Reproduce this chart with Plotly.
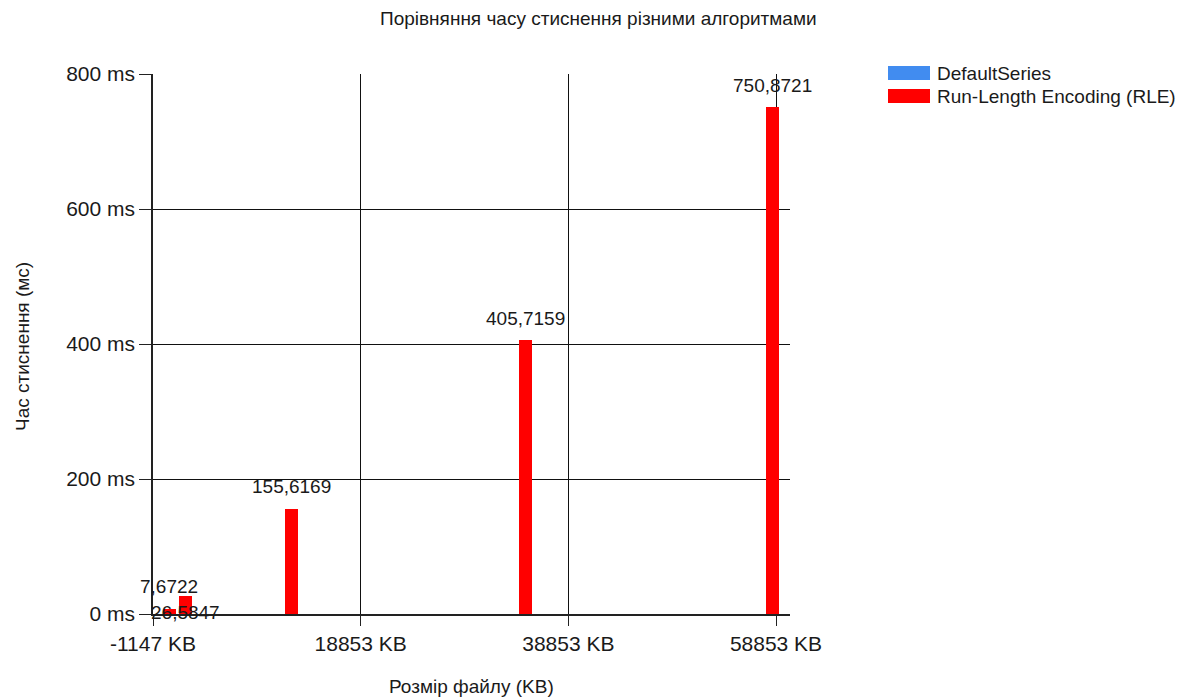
import plotly.graph_objects as go

# ---- data ----
file_sizes_kb = [400, 2000, 12200, 34700, 58500]
rle_times_ms = [7.6722, 26.5847, 155.6169, 405.7159, 750.8721]
series_names = ["DefaultSeries", "Run-Length Encoding (RLE)"]
series_colors = ["#418CF0", "#FF0000"]
x_tick_values = [-1147, 18853, 38853, 58853]
x_tick_labels = ["-1147 KB", "18853 KB", "38853 KB", "58853 KB"]
y_tick_values = [0, 200, 400, 600, 800]
y_tick_labels = ["0 ms", "200 ms", "400 ms", "600 ms", "800 ms"]
title_text = "Порівняння часу стиснення різними алгоритмами"
x_title = "Розмір файлу (KB)"
y_title = "Час стиснення (мс)"

W, H = 1185, 699
L, R, T, B = 153, 790, 74, 614
FONT = "Liberation Sans, Arial, sans-serif"
TXT = "#1a1a1a"

def px_x(p):
    return (p - L) / (R - L)

def px_y(p):
    return (B - p) / (B - T)

fig = go.Figure()
fig.add_trace(go.Bar(x=[None], y=[None], name=series_names[0],
                     marker_color=series_colors[0], showlegend=False))
fig.add_trace(go.Bar(x=file_sizes_kb, y=rle_times_ms, name=series_names[1],
                     marker=dict(color=series_colors[1], line=dict(width=0)),
                     width=1250, showlegend=False))

# data labels (second label displaced by collision avoidance in original)
label_shift = [22, -16, 22, 22, 22]
for xv, yv, sh in zip(file_sizes_kb, rle_times_ms, label_shift):
    fig.add_annotation(x=xv, y=yv, text=f"{yv:.4f}".replace(".", ","),
                       showarrow=False, yshift=sh, xanchor="center", yanchor="middle",
                       font=dict(family=FONT, size=19, color=TXT))

# custom legend
legend_rows = [73, 96]
shapes = []
for name, col, yc in zip(series_names, series_colors, legend_rows):
    shapes.append(dict(type="rect", xref="paper", yref="paper",
                       x0=px_x(888), x1=px_x(930), y0=px_y(yc - 7), y1=px_y(yc + 7),
                       fillcolor=col, line=dict(width=0)))
    fig.add_annotation(xref="paper", yref="paper", x=px_x(935), y=px_y(yc),
                       text=name, showarrow=False, xanchor="left", yanchor="middle",
                       font=dict(family=FONT, size=19, color=TXT))

# titles
fig.add_annotation(xref="paper", yref="paper", x=px_x(598), y=px_y(18),
                   text=title_text, showarrow=False, xanchor="center", yanchor="middle",
                   font=dict(family=FONT, size=19, color=TXT))
fig.add_annotation(xref="paper", yref="paper", x=px_x(471), y=px_y(686),
                   text=x_title, showarrow=False, xanchor="center", yanchor="middle",
                   font=dict(family=FONT, size=19, color=TXT))
fig.add_annotation(xref="paper", yref="paper", x=px_x(22), y=px_y(347),
                   text=y_title, showarrow=False, textangle=-90,
                   xanchor="center", yanchor="middle",
                   font=dict(family=FONT, size=19, color=TXT))

fig.update_layout(
    width=W, height=H,
    margin=dict(l=L, r=W - R, t=T, b=H - B, pad=0),
    paper_bgcolor="white", plot_bgcolor="white",
    shapes=shapes,
    showlegend=False,
    bargap=0,
    font=dict(family=FONT, size=20, color=TXT),
)
fig.update_xaxes(range=[-1147, 60200], tickmode="array",
                 tickvals=x_tick_values, ticktext=x_tick_labels,
                 showgrid=True, gridcolor="#111111", gridwidth=1.2,
                 showline=True, linecolor="#222222", linewidth=1.5,
                 ticks="outside", ticklen=10, tickcolor="#222222", tickwidth=1.2,
                 zeroline=False, tickfont=dict(size=21, family=FONT, color=TXT))
fig.update_yaxes(range=[0, 800], tickmode="array",
                 tickvals=y_tick_values, ticktext=y_tick_labels,
                 showgrid=True, gridcolor="#111111", gridwidth=1.2,
                 showline=True, linecolor="#222222", linewidth=1.5,
                 ticks="outside", ticklen=12, tickcolor="#222222", tickwidth=1.2,
                 zeroline=False, tickfont=dict(size=21, family=FONT, color=TXT))

fig.write_html("out.html")
